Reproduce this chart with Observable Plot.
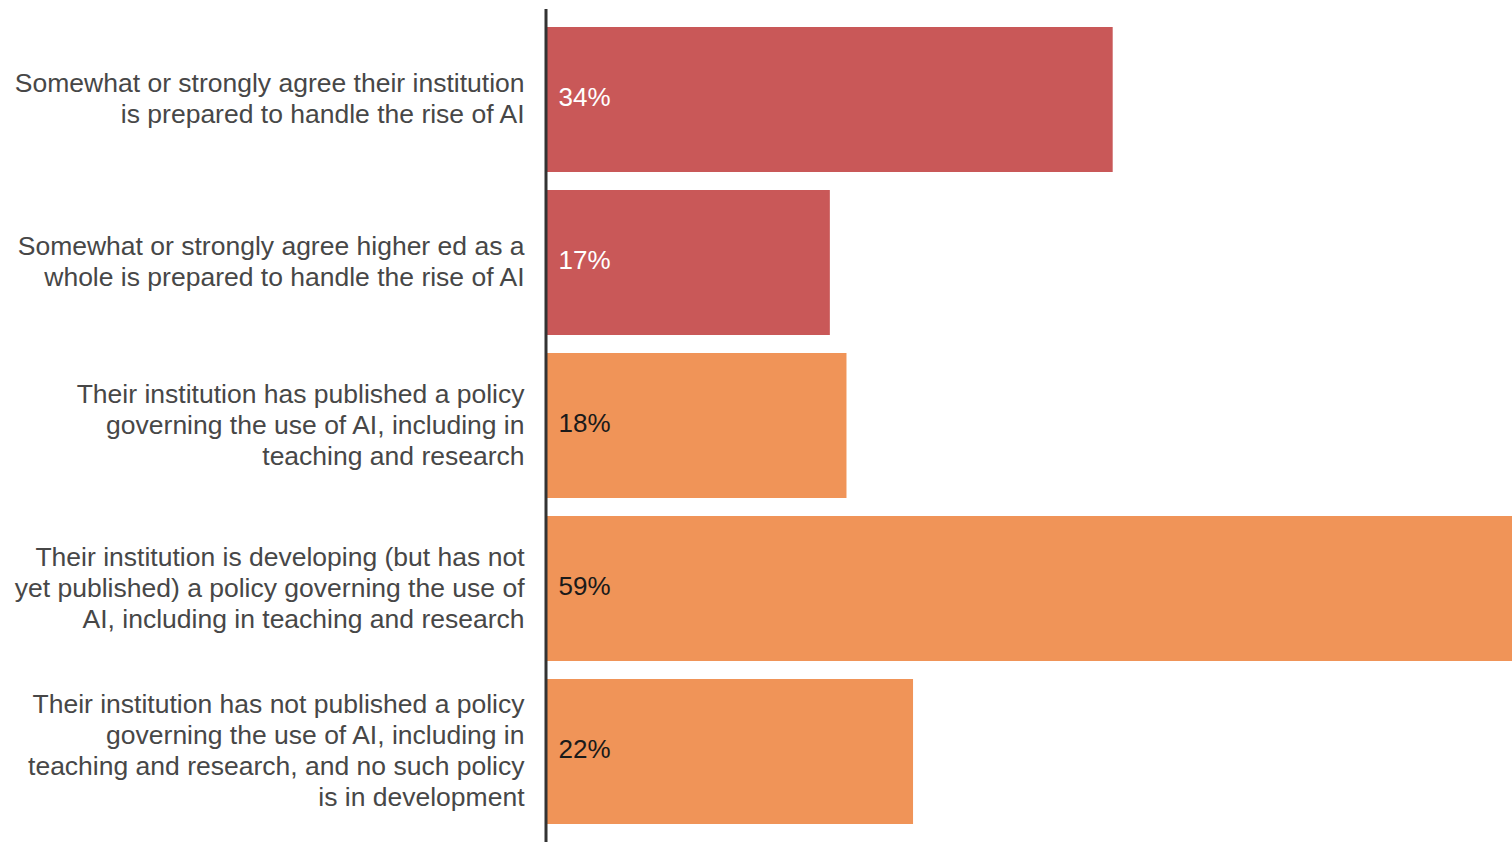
<!DOCTYPE html>
<html>
<head>
<meta charset="utf-8">
<script src="https://cdn.jsdelivr.net/npm/d3@7"></script>
<script src="https://cdn.jsdelivr.net/npm/@observablehq/plot@0.6"></script>
<style>
  html, body { margin: 0; padding: 0; background: #fff; }
  #chart svg { display: block; }
</style>
</head>
<body>
<div id="chart"></div>
<script>
const categories = [
  "Somewhat or strongly agree their institution\nis prepared to handle the rise of AI",
  "Somewhat or strongly agree higher ed as a\nwhole is prepared to handle the rise of AI",
  "Their institution has published a policy\ngoverning the use of AI, including in\nteaching and research",
  "Their institution is developing (but has not\nyet published) a policy governing the use of\nAI, including in teaching and research",
  "Their institution has not published a policy\ngoverning the use of AI, including in\nteaching and research, and no such policy\nis in development"
];
const values = [34, 17, 18, 59, 22];
const groups = ["prepared", "prepared", "policy", "policy", "policy"];
const valueLabels = ["34%", "17%", "18%", "59%", "22%"];

const data = categories.map((c, i) => ({
  category: c, value: values[i], group: groups[i], label: valueLabels[i]
}));

const chart = Plot.plot({
  width: 1512,
  height: 842,
  marginLeft: 547,
  marginRight: 0,
  marginTop: 9,
  marginBottom: 0,
  style: { fontFamily: "'Liberation Sans', Arial, sans-serif", background: "#fff" },
  x: { domain: [0, 58], axis: null },
  y: { domain: categories, padding: 0.11, axis: null },
  color: { domain: ["prepared", "policy"], range: ["#c95858", "#f09458"] },
  marks: [
    Plot.barX(data, { y: "category", x: "value", fill: "group", clip: "frame" }),
    Plot.text(data, {
      y: "category", x: 0, text: "label", textAnchor: "start", dx: 11, dy: -2,
      fontSize: 26, fill: d => d.group === "prepared" ? "#ffffff" : "#1a1a1a"
    }),
    Plot.text(data, {
      y: "category", x: 0, text: "category", textAnchor: "end", dx: -23, dy: -2,
      fontSize: 26.5, lineHeight: 1.17, fill: "#474747", lineAnchor: "middle"
    }),
    Plot.ruleX([0], { stroke: "#333333", strokeWidth: 3, dx: -1.5 })
  ]
});
document.getElementById("chart").appendChild(chart);
</script>
</body>
</html>
